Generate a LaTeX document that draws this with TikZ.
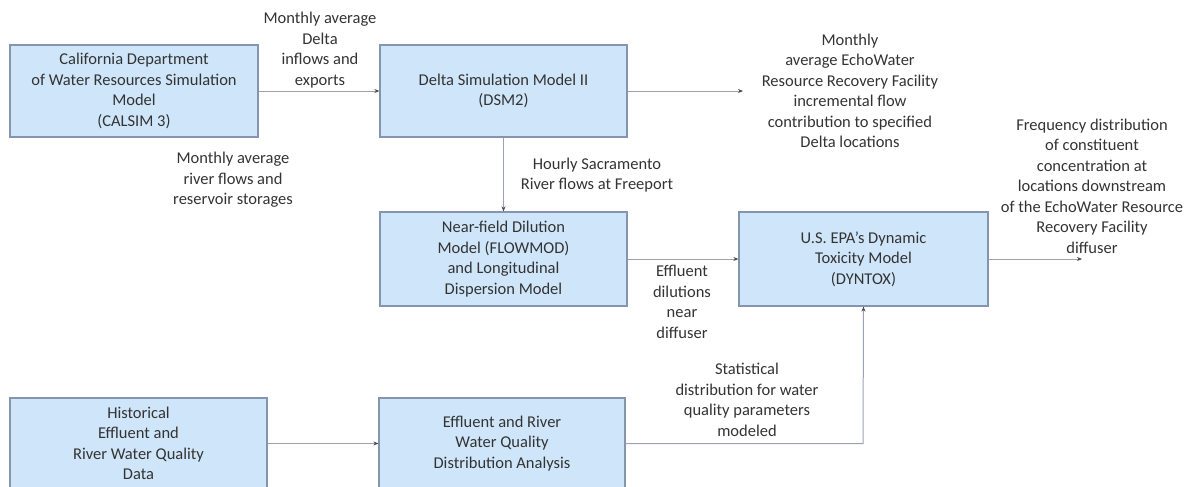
\documentclass[tikz,border=0pt]{standalone}
\usepackage{fontspec}
\setmainfont{Carlito}
\usetikzlibrary{arrows.meta}
\definecolor{boxfill}{HTML}{CFE6FA}
\definecolor{boxline}{HTML}{8595B0}
\definecolor{wire}{HTML}{9AA3B5}
\definecolor{txt}{HTML}{333333}
\tikzset{
  model/.style={draw=boxline, line width=1.2pt, fill=boxfill, align=center, text=txt,
    font=\fontsize{16.5}{20.5}\selectfont, inner sep=0pt},
  lbl/.style={align=center, text=txt, font=\fontsize{16.5}{20.5}\selectfont, inner sep=0pt},
  conn/.style={draw=wire, line width=1pt, -{Stealth[length=5pt,width=4pt,color=black!70]}},
}
\begin{document}
\begin{tikzpicture}[x=1pt,y=-1pt]
\useasboundingbox (0,0) rectangle (1197,487);
\clip (0,0) rectangle (1197,487);
\node[model, minimum width=248pt, minimum height=92pt] (calsim) at (134,91)
  {California Department\\of Water Resources Simulation\\Model\\(CALSIM 3)};
\node[model, minimum width=247pt, minimum height=92pt] (dsm2) at (503.5,91)
  {Delta Simulation Model II\\(DSM2)};
\node[model, minimum width=247pt, minimum height=94pt] (near) at (503.5,259)
  {Near-field Dilution\\Model (FLOWMOD)\\and Longitudinal\\Dispersion Model};
\node[model, minimum width=249pt, minimum height=94pt] (dyn) at (863.5,259)
  {U.S. EPA's Dynamic\\Toxicity Model\\(DYNTOX)};
\node[model, minimum width=257pt, minimum height=91pt] (hist) at (138.5,443.5)
  {Historical\\Effluent and\\River Water Quality\\Data};
\node[model, minimum width=246pt, minimum height=91pt] (erw) at (502,443.5)
  {Effluent and River\\Water Quality\\Distribution Analysis};

\coordinate (out1) at (743,91);
\coordinate (out2) at (1082,259);
\coordinate (bend) at (863,443.5);

\draw[conn] (calsim.east) -- (dsm2.west);
\draw[conn] (dsm2.east) -- (out1);
\draw[conn] (dsm2.south) -- (near.north);
\draw[conn] (near.east) -- (dyn.west);
\draw[conn] (dyn.east) -- (out2);
\draw[conn] (hist.east) -- (erw.west);
\draw[conn] (erw.east) -- (bend) -- (dyn.south);

\node[lbl] (l1) at (320,50) {Monthly average\\Delta\\inflows and\\exports};
\node[lbl] (l2) at (233,180) {Monthly average\\river flows and\\reservoir storages};
\node[lbl] (l3) at (597,175) {Hourly Sacramento\\River flows at Freeport};
\node[lbl] (l4) at (850,91) {Monthly\\average EchoWater\\Resource Recovery Facility\\incremental flow\\contribution to specified\\Delta locations};
\node[lbl] (l5) at (1092,186) {Frequency distribution\\of constituent\\concentration at\\locations downstream\\of the EchoWater Resource\\Recovery Facility\\diffuser};
\node[lbl] (l6) at (682,302) {Effluent\\dilutions\\near\\diffuser};
\node[lbl] (l7) at (747,400) {Statistical\\distribution for water\\quality parameters\\modeled};
\end{tikzpicture}
\end{document}
